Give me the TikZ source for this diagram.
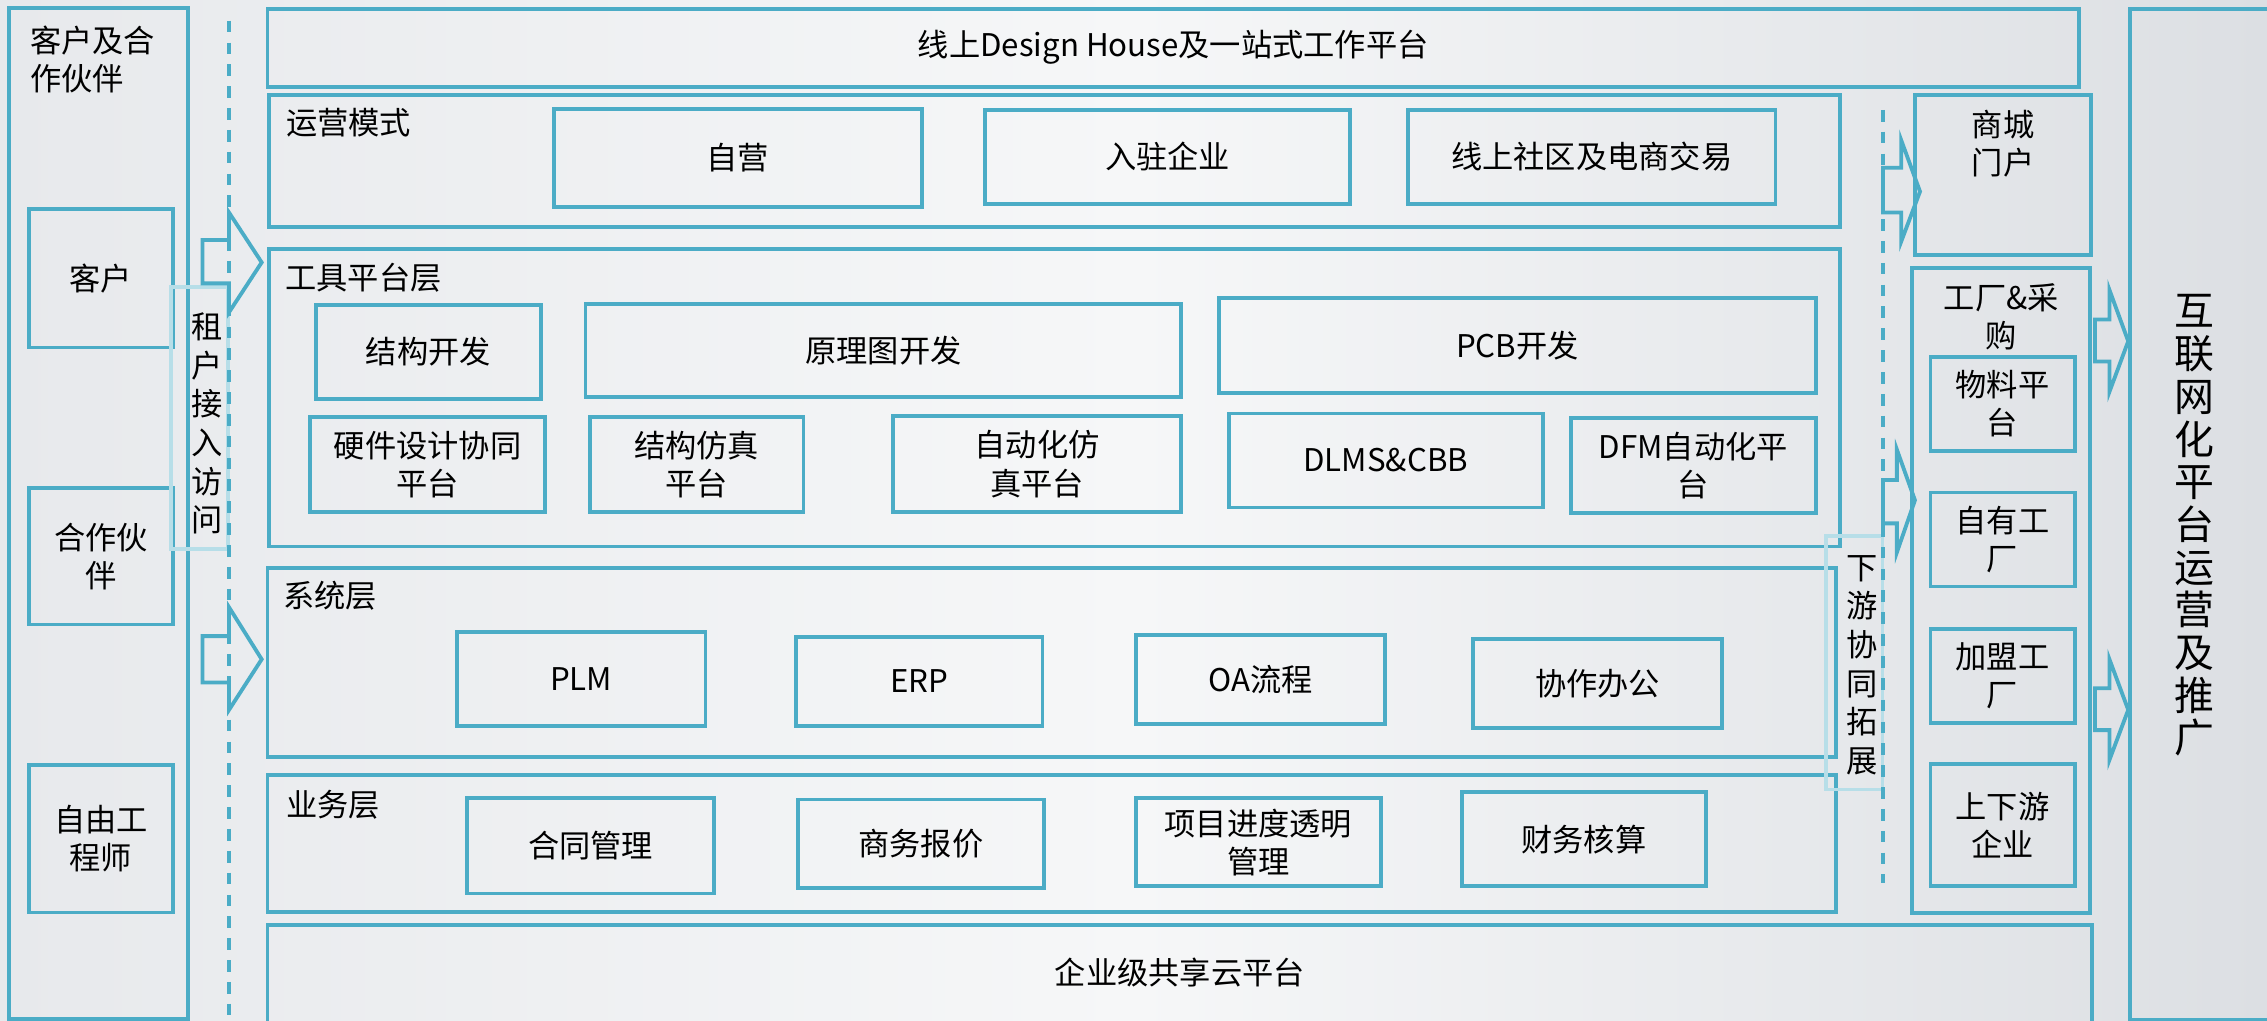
\documentclass[tikz,border=0pt]{standalone}
\usepackage{fontspec}
\setmainfont{Noto Sans CJK SC}
\usetikzlibrary{fit}
\definecolor{bblue}{HTML}{4BACC6}
\definecolor{lblue}{HTML}{B7DEE8}
\definecolor{bgL}{HTML}{E7E9EC}
\definecolor{bgM}{HTML}{F6F7F8}
\definecolor{bgR}{HTML}{DCDFE3}
\newcommand{\nrmtxt}{\fontsize{12.3}{15}\selectfont}
\newcommand{\vertxt}{\fontsize{12.3}{15.2}\selectfont}
\newcommand{\bigtxt}{\fontsize{15.7}{16.8}\selectfont}
\newcommand{\bx}[5][]{\node[box,#1,fit={#3 #4}] (#2) {};\node[txt] (#2t) at (#2.center) {#5};}
\begin{document}
\begin{tikzpicture}[x=0.02cm,y=-0.02cm,
  box/.style={draw=bblue,line width=1.5pt,inner sep=0pt},
  lbox/.style={draw=lblue,line width=1.5pt,inner sep=0pt},
  ttl/.style={anchor=west,inner sep=0pt,font=\nrmtxt,align=left},
  txt/.style={inner sep=0pt,font=\nrmtxt,align=center},
  vtxt/.style={inner sep=0pt,font=\vertxt,align=center},
  dline/.style={draw=bblue,line width=1.6pt,dash pattern=on 4.6pt off 4pt},
  barrow/.style={draw=bblue,line width=1.5pt,line join=miter}]
\useasboundingbox (0,0) rectangle (1568,706);
\shade[left color=bgL,right color=bgR,middle color=bgM] (0,0) rectangle (1568,706);

% left column
\bx{cp}{(6.5,5.8)}{(129.8,705)}{}
\node[ttl] (cpt) at (20.5,41) {客户及合\\作伙伴};
\bx{kh}{(20.3,144.8)}{(119.4,240.4)}{客户}
\bx{hz}{(20.3,337.6)}{(119.4,432)}{合作伙\\伴}
\bx{zy}{(20.3,529)}{(119.4,631.2)}{自由工\\程师}
\node[lbox,fit={(118.3,198.5) (157.7,379.7)}] (zh) {};
\node[vtxt] (zht) at (143,293) {租\\户\\接\\入\\访\\问};

% top
\bx{top}{(185,6)}{(1438,60)}{线上Design House及一站式工作平台}

% operation mode
\bx{yy}{(186,65.5)}{(1272.5,157)}{}
\node[ttl] (yyt) at (197.6,85) {运营模式};
\bx{ziying}{(383,75.6)}{(637.8,143)}{自营}
\bx{ruzhu}{(681,76)}{(934,141)}{入驻企业}
\bx{sq}{(974,76)}{(1228,141)}{线上社区及电商交易}

% tool layer
\bx{gj}{(186,172)}{(1272.5,378)}{}
\node[ttl] (gjt) at (197,192) {工具平台层};
\bx{jgkf}{(218.6,211)}{(374,276)}{结构开发}
\bx{ylt}{(405,210)}{(817,274.6)}{原理图开发}
\bx{pcb}{(843,206)}{(1256,272)}{PCB开发}
\bx{yj}{(214.5,288.6)}{(377,354)}{硬件设计协同\\平台}
\bx{jgfz}{(408,288.6)}{(555.7,354)}{结构仿真\\平台}
\bx{zdh}{(617.6,288)}{(817,354)}{自动化仿\\真平台}
\bx{dlms}{(850,286)}{(1067,351)}{DLMS\&CBB}
\bx{dfm}{(1086.5,289)}{(1256,355)}{DFM自动化平\\台}

% system layer
\bx{xt}{(185,393)}{(1270,523.5)}{}
\node[ttl] (xtt) at (195.5,412) {系统层};
\bx{plm}{(316,437)}{(488,502)}{PLM}
\bx{erp}{(550.5,440.5)}{(721,502)}{ERP}
\bx{oa}{(785.6,439)}{(958,501)}{OA流程}
\bx{xz}{(1019,442)}{(1191,503.5)}{协作办公}

% business layer
\bx{yw}{(185,536)}{(1270,631)}{}
\node[ttl] (ywt) at (197.6,556.5) {业务层};
\bx{ht}{(323,552)}{(494,618)}{合同管理}
\bx{sw}{(552,553)}{(722,614)}{商务报价}
\bx{xm}{(785.6,552)}{(955,613)}{项目进度透明\\管理}
\bx{cw}{(1011,548)}{(1180,613)}{财务核算}

% cloud
\node[box,fit={(185,640) (1447,712)}] (yun) {};
\node[txt] (yunt) at (816,673) {企业级共享云平台};

% downstream label
\node[lbox,fit={(1263,371) (1302,546)}] (xy) {};
\node[vtxt] (xyt) at (1288,460) {下\\游\\协\\同\\拓\\展};

% right column
\node[box,fit={(1324.4,65.7) (1446.5,176.3)}] (sc) {};
\node[txt] (sct) at (1385.5,99.6) {商城\\门户};
\node[box,fit={(1322.7,185.6) (1445.4,631.4)}] (gc) {};
\node[txt] (gct) at (1384.3,219) {工厂\&采\\购};
\bx{wl}{(1335.2,246.7)}{(1435,311.9)}{物料平\\台}
\bx{zygc}{(1335.2,340.7)}{(1435,405.7)}{自有工\\厂}
\bx{jm}{(1335.2,434.8)}{(1435,499.8)}{加盟工\\厂}
\bx{sx}{(1335.2,528.4)}{(1435,612.7)}{上下游\\企业}

% far right
\node[box,fit={(1473,6.5) (1585,705.4)}] (hl) {};
\node[inner sep=0pt,font=\bigtxt,align=center] (hlt) at (1518,363.5) {互\\联\\网\\化\\平\\台\\运\\营\\及\\推\\广};

% dashed lines
\coordinate (d1a) at (158.4,14.3);
\coordinate (d1b) at (158.4,710);
\draw[dline] (d1a) -- (d1b);
\coordinate (d2a) at (1302.4,76);
\coordinate (d2b) at (1302.4,611);
\draw[dline] (d2a) -- (d2b);

% block arrows
\draw[barrow] (140,166) -- (158.4,166) -- (158.4,147) -- (181,181.5) -- (158.4,216) -- (158.4,196) -- (140,196) -- cycle;
\draw[barrow] (140,440) -- (158.4,440) -- (158.4,420) -- (181,456) -- (158.4,491) -- (158.4,472) -- (140,472) -- cycle;
\draw[barrow] (1302.4,116) -- (1315,116) -- (1315,97) -- (1328,132.5) -- (1315,167) -- (1315,147) -- (1302.4,147) -- cycle;
\draw[barrow] (1302.4,332) -- (1312,332) -- (1312,311) -- (1324.5,346) -- (1312,382) -- (1312,362) -- (1302.4,362) -- cycle;
\draw[barrow] (1449,221) -- (1459,221) -- (1459,200.5) -- (1472,236) -- (1459,271) -- (1459,250) -- (1449,250) -- cycle;
\draw[barrow] (1449,476) -- (1459,476) -- (1459,456) -- (1472,491) -- (1459,525.6) -- (1459,505) -- (1449,505) -- cycle;
\end{tikzpicture}
\end{document}
